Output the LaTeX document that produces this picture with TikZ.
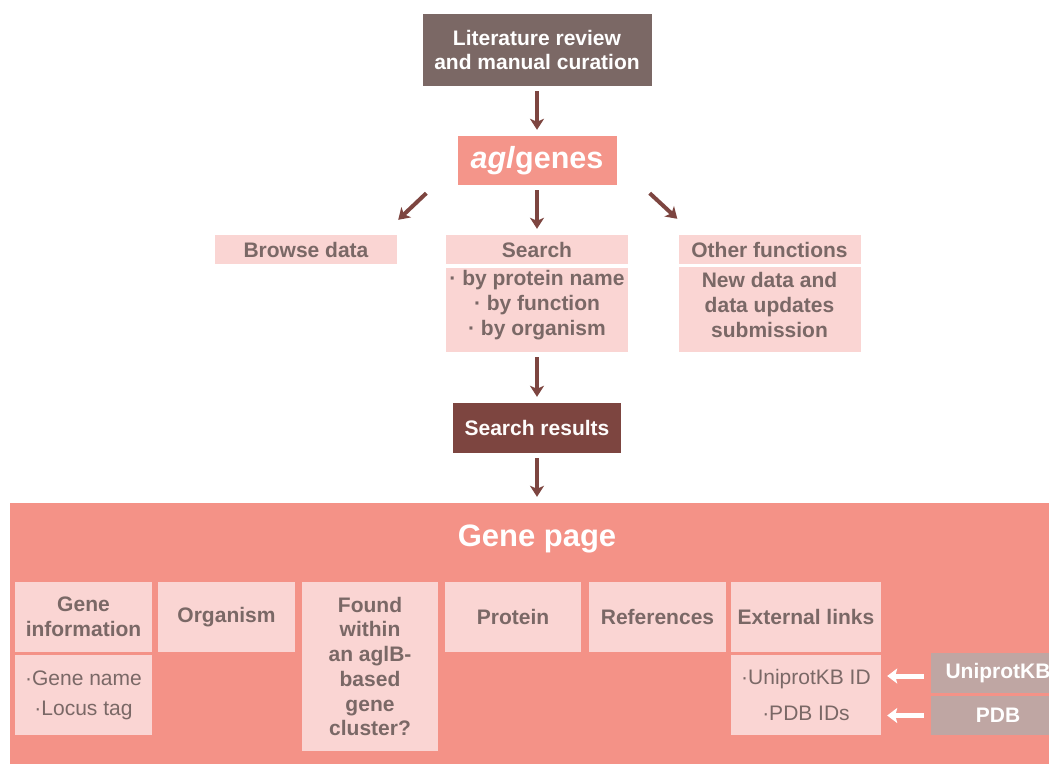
\documentclass[tikz,border=0pt]{standalone}
\usepackage{fontspec}
\setmainfont{Liberation Sans}
\usetikzlibrary{arrows.meta}

\definecolor{litgrey}{HTML}{7B6865}
\definecolor{salmon}{HTML}{F4958A}
\definecolor{palepink}{HTML}{FAD5D3}
\definecolor{greytext}{HTML}{7A6866}
\definecolor{maroon}{HTML}{7D4540}
\definecolor{dbgrey}{HTML}{BFA6A3}

\newcommand{\agfont}{\fontsize{21}{24.7}\selectfont}

\tikzstyle{plainbox}=[inner sep=0pt,align=center,font=\agfont\bfseries]
\tikzstyle{palebox}=[plainbox,fill=palepink,text=greytext]
\tikzstyle{listbox}=[palebox,font=\agfont]
\tikzstyle{dbbox}=[plainbox,fill=dbgrey,text=white,minimum width=134pt]
\tikzstyle{flow}=[draw,line width=4pt,maroon,-{Stealth[width=14pt,length=11pt,inset=3pt]},shorten <=5pt,shorten >=6pt]
\tikzstyle{whiteflow}=[draw,line width=5pt,white,-{Stealth[width=15pt,length=10pt,inset=2pt]},shorten <=7pt,shorten >=6pt]

\begin{document}
\begin{tikzpicture}[x=1pt,y=-1pt]
    \useasboundingbox (0,0) rectangle (1049,763);
    % Top of the flow
    \node[plainbox,fill=litgrey,text=white,minimum width=229pt,minimum height=72pt] (lit) at (537,50) {Literature review\\and manual curation};
    \node[plainbox,fill=salmon,text=white,font=\fontsize{30.5}{32}\selectfont\bfseries,minimum width=159pt,minimum height=49pt] (agl) at (537,160.5) {\textit{agl}genes};
    % The three ways in
    \foreach \pos/\name/\txt in {{(306,249.5)/browse/Browse data}, {(537,249.5)/search/Search}, {(769.5,249.5)/other/Other functions}}
        \node[palebox,minimum width=182pt,minimum height=29pt] (\name) at \pos {\txt};
    \node[palebox,minimum width=182pt,minimum height=84pt] (searchsub) at (537,310) {};
    \node[plainbox,text=greytext] (searchlist) at (537,305) {· by protein name\\· by function\\· by organism};
    \node[palebox,minimum width=182pt,minimum height=85pt] (othersub) at (769.5,309.5) {};
    \node[plainbox,text=greytext] (otherlist) at (769.5,305) {New data and\\data updates\\submission};
    \node[plainbox,fill=maroon,text=white!92!palepink,minimum width=168pt,minimum height=50pt] (results) at (537,428) {Search results};
    % The gene page
    \node[fill=salmon!98!red,minimum width=1050pt,minimum height=267pt,inner sep=0pt] (page) at (535,636.5) {};
    \node[plainbox,text=white,font=\fontsize{31}{32}\selectfont\bfseries] (title) at (537,539) {Gene page};
    \foreach \pos/\name/\boxw/\txt in {{(83.5,617)/geneinfo/137/{Gene\\information}}, {(226.5,617)/organism/137/Organism}, {(513,617)/protein/136/Protein}, {(657.5,617)/refs/137/References}, {(806,617)/extlinks/150/External links}}
        \node[palebox,minimum width=\boxw pt,minimum height=70pt] (\name) at \pos {\txt};
    \node[palebox,minimum width=136pt,minimum height=169pt] (found) at (370,666.5) {Found\\within\\an aglB-\\based\\gene\\cluster?};
    \node[listbox,minimum width=137pt,minimum height=80pt] (genesub) at (83.5,695) {·Gene name\\[5pt]·Locus tag};
    \node[listbox,minimum width=150pt,minimum height=80pt] (extsub) at (806,695) {·UniprotKB ID\\[11pt]·PDB IDs};
    \node[dbbox,minimum height=40pt] (uniprot) at (998,673) {UniprotKB};
    \node[dbbox,minimum height=39pt] (pdb) at (998,715.5) {PDB};
    % Connect the boxes with arrows
    \foreach \source/\dest in {lit/agl, agl/search, searchsub/results}
        \path[flow] (\source) -- (\dest);
    \path[flow] (results) -- (results |- page.north);
    \path[flow,shorten <=0pt,shorten >=0pt] ([shift={(-31,8)}]agl.south west) -- ([shift={(1,-15)}]browse.north east);
    \path[flow,shorten <=0pt,shorten >=0pt] ([shift={(33,8)}]agl.south east) -- ([shift={(-1,-16)}]other.north west);
    \path[whiteflow] ([yshift=-3pt]uniprot.west) -- ([yshift=-3pt]uniprot.west -| extsub.east);
    \path[whiteflow] (pdb.west) -- (pdb.west -| extsub.east);
\end{tikzpicture}
\end{document}
